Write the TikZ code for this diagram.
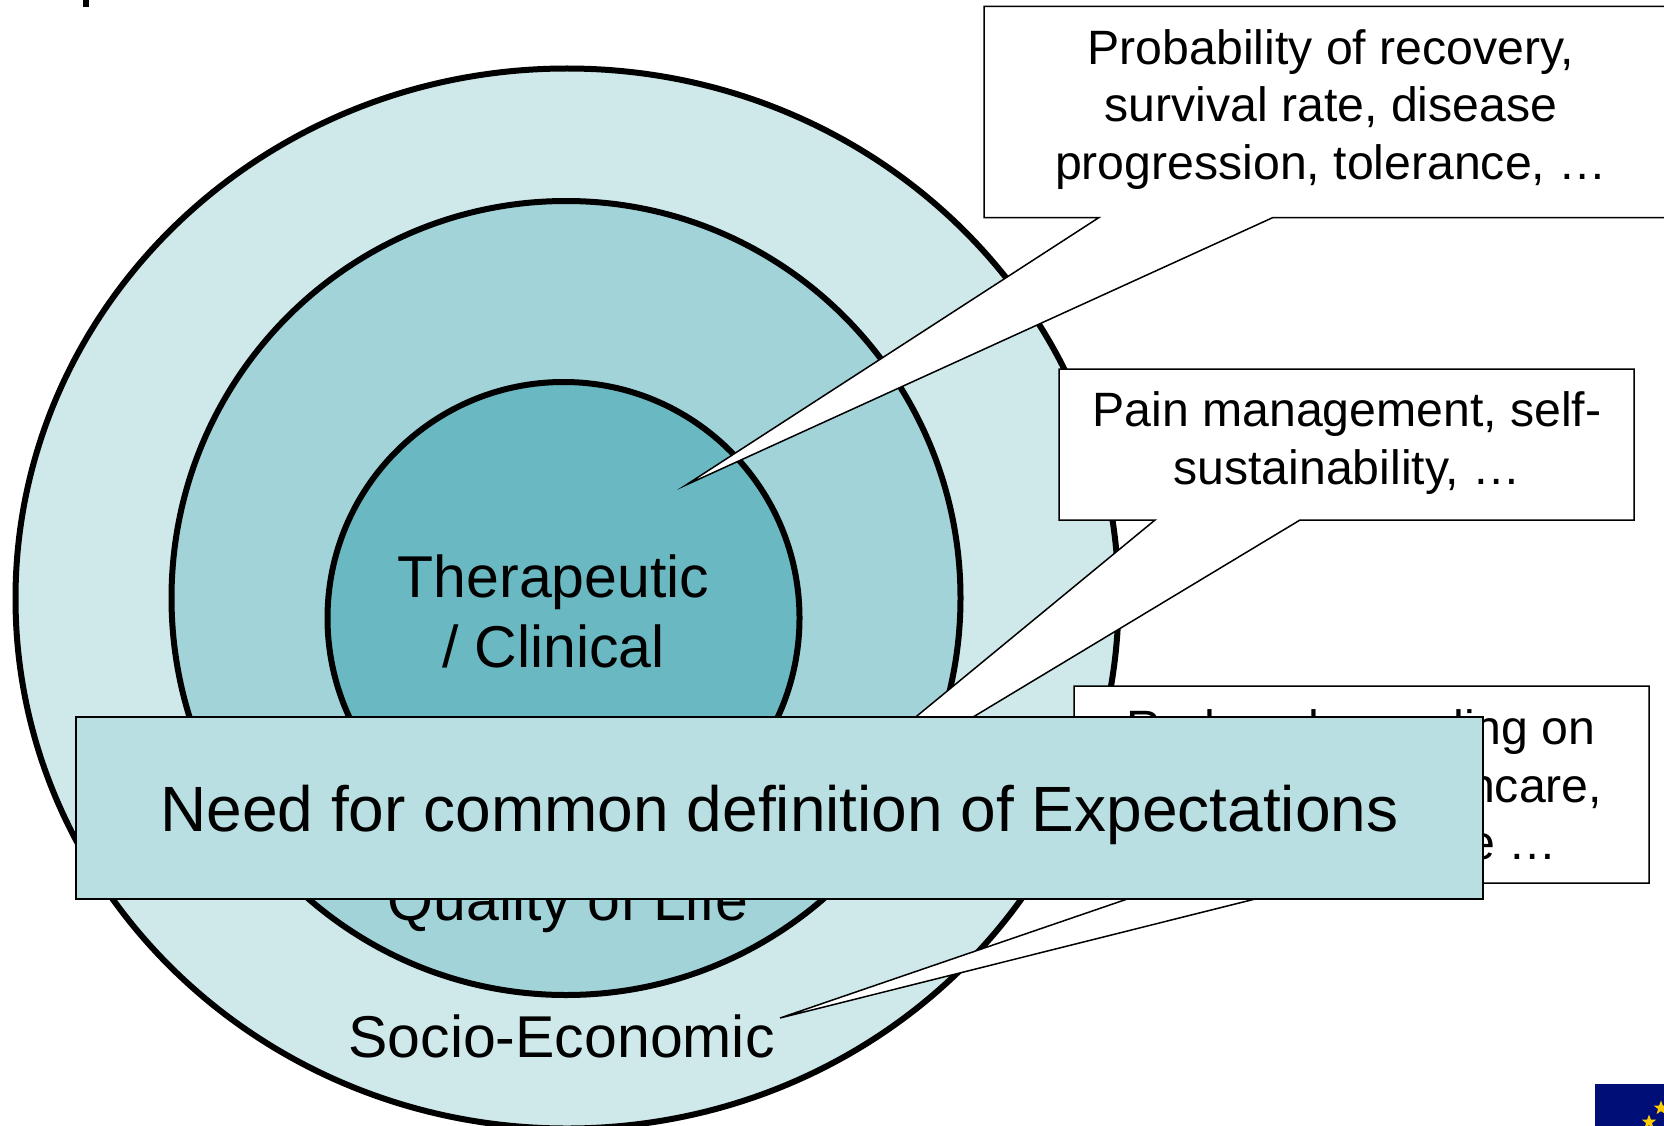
\documentclass[tikz,border=0pt]{standalone}
\usepackage{fontspec}
\setmainfont{Liberation Sans}
\usetikzlibrary{shapes.geometric}
\definecolor{ringA}{HTML}{CFE9EB}
\definecolor{ringB}{HTML}{A1D3D8}
\definecolor{ringC}{HTML}{6AB8C1}
\definecolor{banner}{HTML}{B9DFE2}
\definecolor{euBlue}{HTML}{000F78}
\definecolor{euGold}{HTML}{FFCC00}
\tikzset{
  ring/.style={draw=black,line width=6pt},
  callout/.style={draw=black,fill=white,line width=1.5pt,line join=miter,miter limit=20},
  calltext/.style={align=center,font=\fontsize{48.2}{57.5}\selectfont,inner sep=0pt},
  ringtext/.style={align=center,font=\fontsize{59}{70}\selectfont,inner sep=0pt},
  bannerbox/.style={draw=black,fill=banner,line width=1.5pt},
  eustar/.style={star,star points=5,star point ratio=2.4,fill=euGold,inner sep=0pt,minimum size=15pt},
}
\begin{document}
\begin{tikzpicture}[x=1pt,y=-1pt]
\useasboundingbox (0,0) rectangle (1664,1126);
\begin{scope}
\clip (0,0) rectangle (1664,1126);
\fill[black] (83,0) rectangle (89,7);
\draw[ring,fill=ringA] (567,598.5) ellipse [x radius=551.5,y radius=530];
\draw[ring,fill=ringB] (566,598) ellipse [x radius=394.5,y radius=397];
\draw[ring,fill=ringC] (563.5,618) ellipse [x radius=236,y radius=236];
\node[ringtext] (therapeutic) at (553.5,611) {Therapeutic\\/ Clinical};
\node[ringtext] (quality) at (568,905) {Quality of Life};
\node[ringtext] (socio) at (561.5,1036) {Socio-Economic};
% callouts
\draw[callout] (984,6.5) -- (1670,6.5) -- (1670,217.5) -- (1273,217.5) -- (686,485) -- (1099,217.5) -- (984,217.5) -- cycle;
\node[calltext] (probability) at (1331,109.5) {Probability of recovery,\\survival rate, disease\\progression, tolerance, …};
\draw[callout] (1059,369) -- (1634,369) -- (1634,520) -- (1300,520) -- (759,846) -- (1155,520) -- (1059,520) -- cycle;
\node[calltext] (pain) at (1347,443) {Pain management, self-\\sustainability, …};
\draw[callout] (1074,686) -- (1649,686) -- (1649,883) -- (1319,883) -- (780,1018) -- (1174,883) -- (1074,883) -- cycle;
\node[calltext] (spending) at (1361,785) {Reduced spending on\\total public healthcare,\\return to full life …};
\node[bannerbox,minimum width=1407pt,minimum height=182pt,inner sep=0pt] (need) at (779.5,808) {};
\node[inner sep=0pt,font=\fontsize{64}{70}\selectfont] (needtext) at (779.5,814.7) {Need for common definition of Expectations};
% flag
\fill[euBlue] (1595,1084) rectangle (1664,1126);
\node[eustar] (starA) at (1661,1108) {};
\node[eustar] (starB) at (1649,1122) {};
\end{scope}
\end{tikzpicture}
\end{document}
